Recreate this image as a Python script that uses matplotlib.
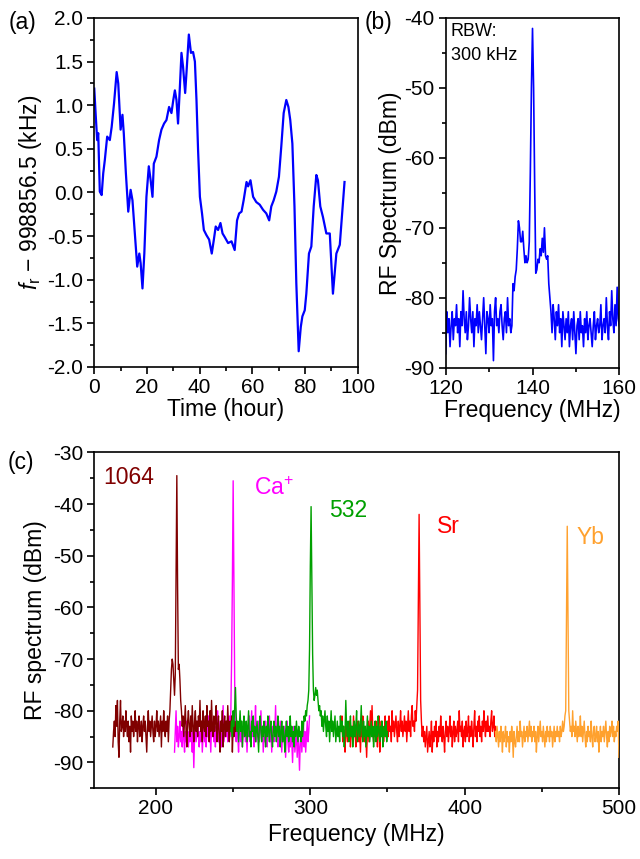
import numpy as np
import matplotlib
matplotlib.use("Agg")
import matplotlib.pyplot as plt
from matplotlib.ticker import MultipleLocator

plt.rcParams['font.family'] = ['Liberation Sans', 'DejaVu Sans']
plt.rcParams['mathtext.fontset'] = 'custom'
plt.rcParams['mathtext.rm'] = 'Liberation Sans'
plt.rcParams['mathtext.it'] = 'Liberation Sans:italic'
plt.rcParams['axes.unicode_minus'] = False

# ---------------- (a) drift of repetition rate ----------------
time_h = [0, 0.5, 1.1, 1.5, 2.1, 2.8, 3.4, 4.0, 4.9, 5.9, 6.6, 7.5, 8.5, 9.1, 10.0, 10.7,
          11.2, 12.0, 12.9, 13.8, 14.5, 15.4, 16.3, 17.1, 17.6, 18.3, 19.0, 19.8, 20.7,
          21.4, 22.1, 22.6, 23.6, 24.6, 25.5, 26.5, 27.4, 28.4, 29.3, 30.0, 30.6, 31.2,
          31.8, 32.5, 33.1, 33.7, 34.5, 35.0, 35.9, 36.7, 37.5, 38.2, 38.8, 39.4, 40.1,
          40.9, 41.6, 42.6, 43.6, 44.6, 45.4, 46.1, 47.0, 47.9, 48.7, 49.5, 50.8, 52.1,
          53.3, 54.2, 55.0, 55.9, 56.7, 57.8, 58.4, 59.3, 60.3, 61.5, 62.8, 64.1, 65.3,
          66.4, 67.2, 68.1, 69.1, 70.1, 71.0, 71.9, 72.9, 73.7, 74.4, 75.2, 76.0, 76.7,
          77.6, 78.4, 79.0, 79.9, 80.5, 81.5, 82.4, 83.3, 84.3, 84.9, 85.8, 86.8, 88.1,
          89.4, 90.6, 91.9, 93.2, 95.0]
fr_khz = [1.19, 0.91, 0.60, 0.68, 0.01, -0.03, 0.22, 0.37, 0.64, 0.60, 0.75, 1.02, 1.38,
          1.25, 0.72, 0.89, 0.68, 0.22, -0.22, 0.03, -0.09, -0.47, -0.85, -0.70, -0.81,
          -1.10, -0.70, -0.05, 0.30, 0.14, -0.05, 0.33, 0.41, 0.60, 0.72, 0.79, 0.83, 0.98,
          0.91, 1.06, 1.17, 1.06, 0.79, 1.21, 1.60, 1.44, 1.14, 1.37, 1.81, 1.60, 1.61,
          1.50, 1.06, 0.49, -0.05, -0.24, -0.43, -0.49, -0.54, -0.70, -0.54, -0.39, -0.43,
          -0.35, -0.47, -0.51, -0.58, -0.56, -0.66, -0.32, -0.24, -0.22, -0.09, 0.12, 0.07,
          0.14, -0.05, -0.11, -0.14, -0.20, -0.24, -0.32, -0.16, -0.09, 0.01, 0.18, 0.53,
          0.91, 1.06, 0.98, 0.83, 0.56, -0.16, -1.04, -1.82, -1.54, -1.42, -1.35, -1.16,
          -0.70, -0.62, -0.16, 0.20, 0.14, -0.16, -0.28, -0.47, -0.47, -1.16, -0.70, -0.60,
          0.12]

# ---------------- (b) RF spectrum, 0.25 MHz grid ----------------
b_start, b_stop = 120.0, 160.0
b_dbm = [
    -88, -82, -85, -83, -87, -84, -82, -86, -83, -84,
    -81, -85, -83, -87, -82, -84, -79, -83, -85, -82,
    -86, -84, -80, -83, -85, -82, -87, -83, -84, -81,
    -85, -82, -84, -86, -83, -80, -84, -88, -82, -83,
    -85, -81, -84, -83, -89, -82, -80, -84, -83, -85,
    -82, -81, -84, -86, -83, -82, -85, -80, -84, -83,
    -85, -84, -78, -79, -77, -76, -73, -69, -70, -72,
    -72, -70.5, -73, -75, -74, -75, -74.5, -72, -62, -50,
    -41.5, -50, -64, -76.5, -76, -74.5, -75, -73, -74, -71.5,
    -73.5, -70, -74, -74.5, -74, -78, -80, -82, -85, -81,
    -83, -86, -82, -84, -81, -85, -83, -87, -82, -84,
    -86, -83, -85, -82, -87, -84, -83, -86, -82, -85,
    -88, -84, -83, -86, -82, -85, -84, -87, -83, -85,
    -82, -86, -84, -83, -85, -87, -84, -82, -86, -84,
    -83, -85, -84, -81, -86, -84, -83, -85, -80, -84,
    -86, -82, -84, -79, -83, -85, -81, -84, -78.5, -83, -84]

# ---------------- (c) beat notes, 0.5 MHz grid ----------------
labels_c = ['1064', 'Ca$^{+}$', '532', 'Sr', 'Yb']
colors_c = ['#800000', '#FF00FF', '#00A000', '#FF0000', '#FFA12E']

start_1064, stop_1064 = 172.0, 251.5
dbm_1064 = [
    -87, -84, -82, -85, -79, -83, -78, -86, -89, -82,
    -78, -84, -83, -81, -85, -82, -84, -80, -83, -85,
    -82, -86, -83, -88, -81, -84, -82, -85, -83, -80,
    -84, -82, -86, -83, -81, -85, -84, -82, -86, -83,
    -81, -84, -82, -85, -88, -83, -80, -84, -82, -85,
    -83, -81, -84, -86, -82, -85, -83, -80, -84, -82,
    -85, -83, -81, -87, -82, -84, -80, -83, -85, -82,
    -84, -81, -86, -82, -80, -76, -72, -70, -71, -74,
    -77, -73, -55, -34.5, -56, -72, -71, -74, -78, -80,
    -83, -81, -85, -82, -79, -84, -87, -82, -80, -83,
    -85, -81, -84, -79, -83, -86, -82, -80, -84, -82,
    -85, -81, -83, -78, -84, -82, -86, -80, -83, -84,
    -81, -85, -79, -83, -82, -86, -80, -84, -78, -83,
    -85, -81, -84, -82, -79, -86, -83, -81, -85, -88,
    -82, -84, -80, -87, -83, -81, -85, -82, -84, -79,
    -83, -86, -82, -84, -81, -88, -83, -85, -82, -84]

start_ca, stop_ca = 212.0, 299.5
dbm_ca = [
    -88, -84, -80, -86, -83, -87, -85, -82, -86, -84,
    -87, -83, -85, -88, -84, -86, -82, -85, -87, -84,
    -86, -83, -85, -88, -84, -91, -85, -83, -86, -84,
    -82, -85, -87, -84, -86, -83, -88, -85, -82, -86,
    -84, -87, -83, -85, -81, -86, -84, -88, -83, -85,
    -82, -86, -84, -87, -83, -85, -80, -86, -84, -82,
    -85, -87, -83, -79, -86, -84, -82, -85, -83, -86,
    -84, -81, -85, -80, -70, -55, -35.5, -55, -75, -84,
    -86, -83, -85, -88, -84, -82, -86, -84, -87, -83,
    -85, -82, -86, -84, -88, -83, -85, -81, -86, -84,
    -80, -85, -83, -87, -84, -79, -86, -83, -85, -82,
    -86, -84, -80, -85, -83, -88, -84, -86, -82, -85,
    -87, -83, -85, -81, -86, -84, -88, -83, -85, -86,
    -84, -79, -85, -83, -87, -84, -86, -82, -85, -88,
    -84, -86, -83, -85, -89, -84, -82, -86, -88, -85,
    -87, -84, -86, -90, -85, -83, -88, -86, -84, -89,
    -85, -87, -91.5, -86, -84, -88, -85, -82, -87, -84,
    -88, -85, -82, -86, -84, -81]

start_532, stop_532 = 248.5, 350.0
dbm_532 = [
    -84, -82, -85, -80, -83, -79, -75.5, -81, -84, -82,
    -86, -83, -80, -84, -82, -87, -83, -81, -85, -84,
    -82, -86, -83, -80, -85, -84, -87, -82, -84, -81,
    -85, -83, -86, -84, -82, -85, -88, -83, -81, -84,
    -86, -83, -85, -82, -84, -87, -83, -85, -81, -84,
    -86, -83, -82, -85, -87, -84, -82, -85, -83, -86,
    -84, -81, -85, -83, -87, -84, -82, -86, -83, -85,
    -88, -84, -82, -85, -83, -86, -84, -81, -85, -83,
    -86, -84, -87, -83, -85, -82, -84, -86, -83, -85,
    -84, -86, -82, -85, -83, -81, -82, -80, -81, -79,
    -78, -76, -68, -52, -40.5, -54, -69, -76, -78, -77,
    -75.5, -77, -76, -78, -80, -79, -81, -80, -83, -81,
    -84, -82, -80, -83, -85, -81, -84, -82, -86, -83,
    -80, -84, -82, -85, -83, -81, -86, -84, -82, -85,
    -83, -86, -81, -84, -82, -85, -83, -87, -84, -78,
    -83, -85, -82, -86, -84, -81, -85, -83, -87, -84,
    -82, -85, -83, -80, -86, -84, -82, -85, -83, -79,
    -84, -86, -82, -85, -83, -87, -84, -81, -85, -83,
    -86, -84, -82, -85, -83, -87, -84, -82, -86, -83,
    -85, -81, -84, -86, -83, -85, -82, -87, -84, -83,
    -85, -82, -86, -84]

start_sr, stop_sr = 320.0, 420.5
dbm_sr = [
    -84, -81, -86, -83, -85, -88, -82, -84, -86, -83,
    -85, -82, -87, -84, -83, -86, -81, -85, -84, -87,
    -83, -85, -82, -86, -84, -88, -83, -85, -81, -84,
    -86, -83, -85, -89, -84, -82, -86, -83, -80, -85,
    -79, -84, -86, -83, -85, -82, -84, -87, -83, -81,
    -88, -84, -82, -85, -83, -86, -84, -81, -85, -83,
    -82, -85, -81, -84, -83, -86, -80, -84, -82, -85,
    -83, -81, -84, -86, -82, -85, -83, -80, -84, -82,
    -85, -83, -81, -84, -82, -86, -83, -80, -84, -82,
    -85, -81, -79, -83, -82, -84, -80, -82, -79, -76,
    -60, -42, -60, -78, -82, -85, -83, -86, -84, -87,
    -85, -83, -88, -86, -84, -87, -85, -82, -88, -84,
    -86, -83, -85, -82, -87, -84, -86, -83, -85, -81,
    -84, -86, -83, -85, -88, -84, -82, -85, -83, -86,
    -84, -81, -85, -83, -87, -84, -82, -86, -83, -85,
    -84, -82, -86, -80, -84, -83, -85, -82, -87, -84,
    -83, -86, -82, -85, -84, -81, -86, -83, -85, -82,
    -84, -87, -83, -80, -85, -83, -86, -82, -84, -81,
    -85, -83, -86, -82, -84, -80, -83, -85, -82, -84,
    -81, -84, -83, -85, -82, -80, -84, -83, -81, -85,
    -83, -84]

start_yb, stop_yb = 420.0, 500.0
dbm_yb = [
    -84, -86, -83, -85, -87, -84, -86, -83, -85, -88,
    -84, -86, -85, -83, -87, -84, -86, -85, -88, -84,
    -86, -83, -85, -89, -84, -86, -87, -85, -83, -86,
    -84, -86, -82, -85, -84, -87, -85, -83, -86, -84,
    -85, -83, -86, -84, -82, -85, -83, -86, -84, -85,
    -83, -86, -84, -88, -85, -83, -86, -84, -82, -85,
    -84, -86, -83, -85, -87, -84, -86, -83, -85, -84,
    -86, -83, -85, -84, -87, -85, -83, -86, -84, -85,
    -83, -85, -84, -86, -83, -85, -84, -82, -84, -83,
    -81, -80, -62, -44.3, -62, -80, -82, -84, -83, -85,
    -80, -84, -83, -85, -82, -84, -86, -83, -85, -84,
    -81, -85, -83, -86, -84, -82, -85, -87, -84, -86,
    -83, -85, -84, -86, -82, -85, -87, -84, -83, -86,
    -85, -83, -86, -84, -88, -85, -83, -86, -84, -85,
    -83, -86, -84, -82, -85, -87, -84, -86, -83, -85,
    -84, -82, -85, -83, -86, -84, -85, -83, -84, -82,
    -89]

# label anchor values (data coordinates)
label_f = [165.6, 263.4, 312.0, 382.0, 472.3]
label_db = [-34.8, -36.9, -41.2, -44.4, -46.4]

# ---------------- figure ----------------
fig = plt.figure(figsize=(6.40, 8.59), dpi=100)
tick_fs = 15
label_fs = 16.5

def style(ax):
    ax.tick_params(which='both', direction='out', top=False, right=False,
                   labelsize=tick_fs, width=1.2, pad=3)
    ax.tick_params(which='major', length=5)
    ax.tick_params(which='minor', length=3)
    for s in ax.spines.values():
        s.set_linewidth(1.2)

# (a)
ax_a = fig.add_axes([0.1473, 0.5728, 0.4116, 0.4063])
ax_a.plot(time_h, fr_khz, color='#0000FF', lw=1.6)
ax_a.set_xlim(0, 100)
ax_a.set_ylim(-2.0, 2.0)
ax_a.xaxis.set_major_locator(MultipleLocator(20))
ax_a.xaxis.set_minor_locator(MultipleLocator(10))
ax_a.yaxis.set_major_locator(MultipleLocator(0.5))
ax_a.yaxis.set_minor_locator(MultipleLocator(0.25))
ax_a.yaxis.set_major_formatter(matplotlib.ticker.FormatStrFormatter('%.1f'))
style(ax_a)
ax_a.set_xlabel('Time (hour)', fontsize=label_fs, labelpad=1)
ax_a.set_ylabel(r'$f_{\rm r}$ $-$ 998856.5 (kHz)', fontsize=label_fs, labelpad=2)
fig.text(22 / 640, 1 - 22 / 859, '(a)', fontsize=label_fs, ha='center', va='center')

# (b)
b_freq = np.linspace(b_start, b_stop, len(b_dbm))
ax_b = fig.add_axes([0.6964, 0.5720, 0.2713, 0.4071])
ax_b.plot(b_freq, b_dbm, color='#0000FF', lw=1.2)
ax_b.set_xlim(120, 160)
ax_b.set_ylim(-90, -40)
ax_b.xaxis.set_major_locator(MultipleLocator(20))
ax_b.xaxis.set_minor_locator(MultipleLocator(10))
ax_b.yaxis.set_major_locator(MultipleLocator(10))
ax_b.yaxis.set_minor_locator(MultipleLocator(5))
style(ax_b)
ax_b.set_xlabel('Frequency (MHz)', fontsize=label_fs, labelpad=1)
ax_b.set_ylabel('RF Spectrum (dBm)', fontsize=label_fs, labelpad=2)
ax_b.text(0.03, 0.985, 'RBW:\n300 kHz', transform=ax_b.transAxes, fontsize=13,
          ha='left', va='top', linespacing=1.5)
fig.text(378 / 640, 1 - 22 / 859, '(b)', fontsize=label_fs, ha='center', va='center')

# (c)
ax_c = fig.add_axes([0.1473, 0.0823, 0.8198, 0.3911])
segments = [(start_1064, stop_1064, dbm_1064), (start_ca, stop_ca, dbm_ca),
            (start_532, stop_532, dbm_532), (start_sr, stop_sr, dbm_sr),
            (start_yb, stop_yb, dbm_yb)]
zorders = [3, 2, 4, 1, 5]
for (st, sp, vals), col, z in zip(segments, colors_c, zorders):
    f = np.linspace(st, sp, len(vals))
    ax_c.plot(f, vals, color=col, lw=1.0, zorder=z)
for lab, col, fx, dy in zip(labels_c, colors_c, label_f, label_db):
    ax_c.text(fx, dy, lab, color=col, fontsize=label_fs, ha='left', va='center')
ax_c.set_xlim(160, 500)
ax_c.set_ylim(-95, -30)
ax_c.xaxis.set_major_locator(MultipleLocator(100))
ax_c.xaxis.set_minor_locator(MultipleLocator(50))
ax_c.yaxis.set_major_locator(MultipleLocator(10))
ax_c.yaxis.set_minor_locator(MultipleLocator(5))
style(ax_c)
ax_c.set_xlabel('Frequency (MHz)', fontsize=label_fs, labelpad=3)
ax_c.set_ylabel('RF spectrum (dBm)', fontsize=label_fs, labelpad=4)
fig.text(21 / 640, 1 - 462 / 859, '(c)', fontsize=label_fs, ha='center', va='center')

fig.savefig('out.png', dpi=100)
